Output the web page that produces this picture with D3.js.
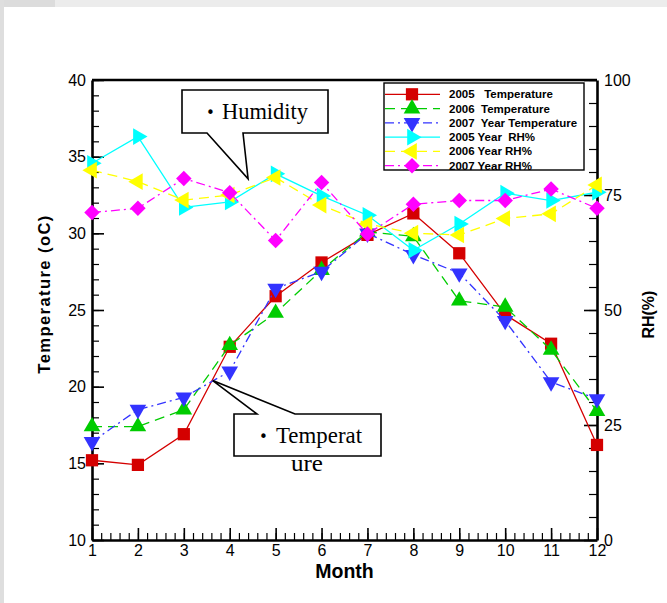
<!DOCTYPE html>
<html>
<head>
<meta charset="utf-8">
<script src="https://cdn.jsdelivr.net/npm/d3@7"></script>
<style>
  body { margin: 0; background: #fff; }
  svg { display: block; }
  .tick text { font-family: "Liberation Sans", Arial, sans-serif; }
</style>
</head>
<body>
<div id="vis"></div>
<script>
// months on the x axis
const months = [1, 2, 3, 4, 5, 6, 7, 8, 9, 10, 11, 12];

// temperature (oC), left axis
const temp2005 = [15.2, 14.9, 16.9, 22.6, 25.9, 28.1, 29.9, 31.3, 28.7, 24.7, 22.8, 16.2];
const temp2006 = [17.4, 17.4, 18.5, 22.7, 24.8, 27.6, 30.1, 29.8, 25.6, 25.2, 22.4, 18.4];
const temp2007 = [16.4, 18.5, 19.3, 21.0, 26.4, 27.5, 30.0, 28.6, 27.4, 24.3, 20.3, 19.2];

// relative humidity (%), right axis
const rh2005 = [81.9, 87.7, 72.3, 73.5, 79.6, 74.8, 70.6, 63.0, 68.7, 75.4, 73.8, 75.6];
const rh2006 = [80.4, 77.9, 73.9, 75.0, 78.8, 72.8, 68.7, 66.7, 66.3, 69.9, 70.9, 77.2];
const rh2007 = [71.2, 72.1, 78.6, 75.5, 65.1, 77.7, 66.5, 73.0, 73.8, 73.8, 76.3, 72.1];

const tempTicks = [10, 15, 20, 25, 30, 35, 40];
const rhTicks = [0, 25, 50, 75, 100];

const seriesNames = ["2005   Temperature", "2006  Temperature", "2007  Year Temperature",
  "2005 Year  RH%", "2006 Year RH%", "2007 Year RH%"];

const W = 667, H = 603;
const margin = { top: 80, right: 70, bottom: 63, left: 92 },
    width = W - margin.left - margin.right,
    height = H - margin.top - margin.bottom;

const svg = d3.select("#vis").append("svg")
    .attr("width", W)
    .attr("height", H);

// grey frame of the screenshot
svg.append("rect").attr("x", 0).attr("y", 0).attr("width", W).attr("height", 7).attr("fill", "#ececec");
svg.append("rect").attr("x", 0).attr("y", 0).attr("width", 55).attr("height", 7).attr("fill", "#dcdcdc");
svg.append("rect").attr("x", 0).attr("y", 0).attr("width", 4).attr("height", H).attr("fill", "#dedede");

const g = svg.append("g")
    .attr("transform", "translate(" + margin.left + "," + margin.top + ")");

const x = d3.scaleLinear().domain([1, 12]).range([0, width]);
const yT = d3.scaleLinear().domain([10, 40]).range([height, 0]);
const yR = d3.scaleLinear().domain([0, 100]).range([height, 0]);

const series = [
  { name: seriesNames[0], values: temp2005, y: yT, color: "#d40000", dash: null, sym: d3.symbolSquare, size: 150, rot: 0 },
  { name: seriesNames[1], values: temp2006, y: yT, color: "#00cc00", dash: "10,6", sym: d3.symbolTriangle, size: 120, rot: 0 },
  { name: seriesNames[2], values: temp2007, y: yT, color: "#3333ff", dash: "9,4,2,4", sym: d3.symbolTriangle, size: 120, rot: 180 },
  { name: seriesNames[3], values: rh2005, y: yR, color: "#00ffff", dash: null, sym: d3.symbolTriangle, size: 120, rot: 90 },
  { name: seriesNames[4], values: rh2006, y: yR, color: "#ffff00", dash: "10,6", sym: d3.symbolTriangle, size: 120, rot: -90 },
  { name: seriesNames[5], values: rh2007, y: yR, color: "#ff00ff", dash: "9,4,2,4", sym: d3.symbolSquare, size: 120, rot: 45 }
];

// minor ticks
function minor(step, dom) {
  const out = [];
  for (let v = dom[0]; v <= dom[1] + 1e-9; v += step) out.push(+v.toFixed(3));
  return out;
}
const axisStyle = sel => {
  sel.select(".domain").attr("stroke-width", 2.6);
  sel.selectAll(".tick line").attr("stroke-width", 1.6);
};

g.append("g").call(d3.axisLeft(yT).tickValues(minor(1, [10, 40])).tickFormat("").tickSize(-7).tickSizeOuter(0))
    .call(s => s.select(".domain").remove()).selectAll(".tick line").attr("stroke-width", 1.2);
g.append("g").call(d3.axisBottom(x).tickValues(minor(0.2, [1, 12])).tickFormat("").tickSize(-7).tickSizeOuter(0))
    .attr("transform", "translate(0," + height + ")")
    .call(s => s.select(".domain").remove()).selectAll(".tick line").attr("stroke-width", 1.2);
g.append("g").call(d3.axisRight(yR).tickValues(minor(5, [0, 100])).tickFormat("").tickSize(-8).tickSizeOuter(0))
    .attr("transform", "translate(" + width + ",0)")
    .call(s => s.select(".domain").remove()).selectAll(".tick line").attr("stroke-width", 1.2);

// major axes
g.append("g")
    .call(d3.axisLeft(yT).tickValues(tempTicks).tickSize(-12).tickSizeOuter(0).tickPadding(6))
    .call(axisStyle)
    .selectAll("text").attr("font-size", 16).attr("fill", "#000");
g.append("g")
    .attr("transform", "translate(0," + height + ")")
    .call(d3.axisBottom(x).tickValues(months).tickSize(-12).tickSizeOuter(0).tickPadding(5))
    .call(axisStyle)
    .selectAll("text").attr("font-size", 16).attr("fill", "#000");
g.append("g")
    .attr("transform", "translate(" + width + ",0)")
    .call(d3.axisRight(yR).tickValues(rhTicks).tickSize(-13).tickSizeOuter(0).tickPadding(7))
    .call(axisStyle)
    .selectAll("text").attr("font-size", 16).attr("fill", "#000");
g.append("line")
    .attr("x1", 0).attr("x2", width).attr("y1", 0).attr("y2", 0)
    .attr("stroke", "#000").attr("stroke-width", 2.6);

// axis titles
svg.append("text")
    .attr("transform", "translate(50," + (margin.top + yT(26.0)) + ") rotate(-90)")
    .attr("text-anchor", "middle")
    .attr("font-family", "Liberation Sans, Arial, sans-serif")
    .attr("font-weight", "bold").attr("font-size", 16.5)
    .attr("textLength", 158).attr("lengthAdjust", "spacing")
    .text("Temperature (oC)");
svg.append("text")
    .attr("transform", "translate(654," + (margin.top + yR(49)) + ") rotate(-90)")
    .attr("text-anchor", "middle")
    .attr("font-family", "Liberation Sans, Arial, sans-serif")
    .attr("font-weight", "bold").attr("font-size", 16)
    .text("RH(%)");
svg.append("text")
    .attr("x", margin.left + x(6.5)).attr("y", 578)
    .attr("text-anchor", "middle")
    .attr("font-family", "Liberation Sans, Arial, sans-serif")
    .attr("font-weight", "bold").attr("font-size", 19.5)
    .text("Month");

// callouts
function callout(box, gap, tip, lines) {
  const [x0, y0, x1, y1] = box;
  let pts;
  if (gap.side === "bottom") {
    pts = [[x0, y0], [x1, y0], [x1, y1], [gap.b, y1], tip, [gap.a, y1], [x0, y1]];
  } else {
    pts = [[x0, y0], [gap.a, y0], tip, [gap.b, y0], [x1, y0], [x1, y1], [x0, y1]];
  }
  svg.append("path")
      .attr("d", d3.line()(pts) + "Z")
      .attr("fill", "#fff").attr("stroke", "#000").attr("stroke-width", 1.6)
      .attr("stroke-linejoin", "miter");
  lines.forEach(l => {
    if (l.bullet) {
      svg.append("text").attr("x", l.bullet).attr("y", l.y - 1)
          .attr("font-family", "DejaVu Sans, sans-serif").attr("font-size", 15)
          .text("•");
    }
    svg.append("text").attr("x", l.x).attr("y", l.y)
        .attr("font-family", "Liberation Serif, serif").attr("font-size", 23.5)
        .attr("textLength", l.len).attr("lengthAdjust", "spacingAndGlyphs")
        .text(l.text);
  });
}

callout([182, 90, 328, 133], { side: "bottom", a: 207, b: 243 },
  [margin.left + x(4.4), margin.top + yR(78.5)],
  [{ bullet: 206, x: 222, y: 119, text: "Humidity", len: 86 }]);

callout([234, 414, 381, 456], { side: "top", a: 257, b: 295 },
  [margin.left + x(3.63), margin.top + yT(20.4)],
  [{ bullet: 259, x: 276, y: 443, text: "Temperat", len: 86 },
   { x: 291, y: 471, text: "ure", len: 32 }]);

// series
const plot = g.append("g");
series.forEach(s => {
  const pts = months.map((m, i) => [x(m), s.y(s.values[i])]);
  plot.append("path")
      .datum(pts)
      .attr("fill", "none")
      .attr("stroke", s.color)
      .attr("stroke-width", 1.3)
      .attr("stroke-dasharray", s.dash)
      .attr("d", d3.line());
  plot.selectAll(null)
      .data(pts)
      .enter()
      .append("path")
      .attr("transform", d => "translate(" + d[0] + "," + d[1] + ") rotate(" + s.rot + ")")
      .attr("fill", s.color)
      .attr("d", d3.symbol(s.sym, s.size)());
});

// legend
const leg = svg.append("g");
leg.append("rect")
    .attr("x", 384).attr("y", 83).attr("width", 200).attr("height", 87)
    .attr("fill", "#fff").attr("stroke", "#000").attr("stroke-width", 1.4);
const rowY = d3.scaleLinear().domain([0, 5]).range([94.3, 165.7]);
series.forEach((s, i) => {
  const yy = rowY(i);
  leg.append("line")
      .attr("x1", 385).attr("x2", 440).attr("y1", yy).attr("y2", yy)
      .attr("stroke", s.color).attr("stroke-width", 1.3)
      .attr("stroke-dasharray", s.dash);
  leg.append("path")
      .attr("transform", "translate(412," + yy + ") rotate(" + s.rot + ")")
      .attr("fill", s.color)
      .attr("d", d3.symbol(s.sym, s.size)());
  leg.append("text")
      .attr("x", 449).attr("y", yy + 4)
      .attr("xml:space", "preserve")
      .style("white-space", "pre")
      .attr("font-family", "Liberation Sans, Arial, sans-serif")
      .attr("font-weight", "bold").attr("font-size", 11.5)
      .text(s.name);
});
</script>
</body>
</html>
